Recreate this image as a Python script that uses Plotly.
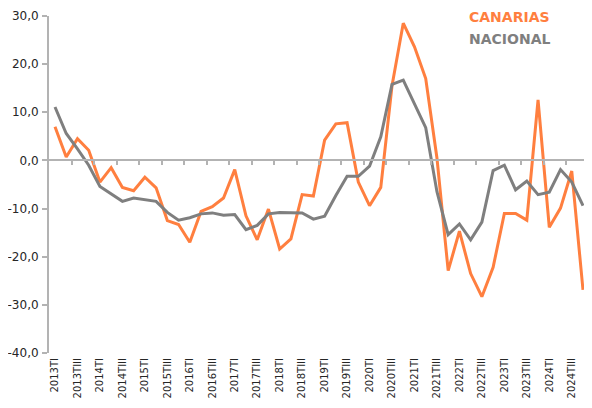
import plotly.graph_objects as go

years = list(range(2013, 2025))
quarters = ["TI", "TII", "TIII", "TIV"]
periods = [f"{y}{q}" for y in years for q in quarters]

canarias = [7.0, 0.7, 4.5, 2.1, -4.5, -1.5, -5.6, -6.3, -3.5, -5.7,
            -12.5, -13.3, -17.0, -10.6, -9.6, -7.8, -1.9, -11.5, -16.5, -10.1,
            -18.4, -16.3, -7.1, -7.4, 4.2, 7.6, 7.85, -4.5, -9.4, -5.6,
            15.5, 28.5, 23.6, 17.0, 0.5, -22.9, -14.7, -23.5, -28.3, -22.2,
            -11.0, -11.0, -12.4, 12.6, -13.9, -9.9, -2.2, -26.9]

nacional = [11.1, 5.6, 2.4, -1.0, -5.4, -6.9, -8.5, -7.8, -8.1, -8.5,
            -10.8, -12.4, -11.9, -11.1, -10.9, -11.4, -11.25, -14.4, -13.5, -11.1,
            -10.8, -10.8, -10.9, -12.2, -11.6, -7.3, -3.3, -3.3, -1.2, 4.9,
            15.8, 16.7, 11.8, 6.8, -6.5, -15.4, -13.2, -16.5, -12.8, -2.1,
            -1.0, -6.1, -4.3, -7.1, -6.6, -1.9, -4.5, -9.4]

ytick_vals = [30, 20, 10, 0, -10, -20, -30, -40]
ytick_text = ["30,0", "20,0", "10,0", "0,0", "-10,0", "-20,0", "-30,0", "-40,0"]

ORANGE = "#FF7F3F"
GRAY = "#7F7F7F"
AXIS = "#B3B3B3"
TXT = "#262626"

idx = list(range(len(periods)))
label_idx = idx[::2]
label_txt = periods[::2]
between_ticks = [i + 1.5 for i in idx[::2]]

xr = [-0.534, 47.09]

# page body has an 8px margin: keep the figure inside the window
W, H = 576, 392
ML, MT, MB = 41, 8, 47

fig = go.Figure()
fig.add_trace(go.Scatter(x=idx, y=canarias, mode="lines", name="CANARIAS",
                         line=dict(color=ORANGE, width=3), hoverinfo="skip"))
fig.add_trace(go.Scatter(x=idx, y=nacional, mode="lines", name="NACIONAL",
                         line=dict(color=GRAY, width=3), hoverinfo="skip"))
fig.add_trace(go.Scatter(x=[], y=[], xaxis="x2", showlegend=False, hoverinfo="skip"))

fig.update_layout(
    width=W, height=H,
    margin=dict(l=ML, r=0, t=MT, b=MB, autoexpand=False),
    paper_bgcolor="white", plot_bgcolor="white",
    showlegend=False,
    font=dict(family="DejaVu Sans, Verdana, sans-serif", color=TXT),
    xaxis=dict(range=xr, tickmode="array", tickvals=label_idx, ticktext=label_txt,
               tickangle=-90, showgrid=False, zeroline=False, showline=False,
               ticks="", tickfont=dict(size=10, color=TXT), ticklabelstandoff=2,
               automargin=False),
    xaxis2=dict(range=xr, overlaying="x", anchor="free", position=40 / 70,
                tickmode="array", tickvals=between_ticks, showticklabels=False,
                showline=True, linecolor=AXIS, linewidth=2, ticks="outside",
                ticklen=4, tickcolor=AXIS, tickwidth=1.5, showgrid=False, zeroline=False,
                automargin=False),
    yaxis=dict(range=[-40, 30], tickmode="array", tickvals=ytick_vals, ticktext=ytick_text,
               showgrid=False, zeroline=False, showline=True, linecolor=AXIS, linewidth=2,
               ticks="outside", ticklen=5, tickcolor=AXIS, tickwidth=1.5,
               tickfont=dict(size=12, color=TXT), ticklabelstandoff=1, automargin=False),
)

plot_w = W - ML
plot_h = H - MT - MB
legend_labels = [("CANARIAS", ORANGE, 459, 9), ("NACIONAL", GRAY, 459, 31)]
for txt, col, px, py in legend_labels:
    fig.add_annotation(x=(px - ML) / plot_w, y=1 - (py - MT) / plot_h,
                       xref="paper", yref="paper", text=f"<b>{txt}</b>",
                       showarrow=False, xanchor="left", yanchor="middle",
                       font=dict(size=14, color=col))

fig.write_html("out.html")
